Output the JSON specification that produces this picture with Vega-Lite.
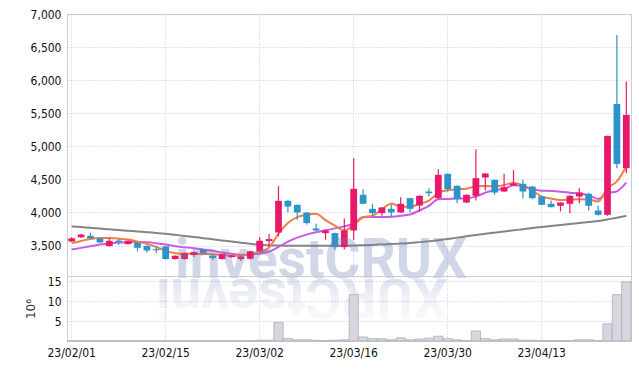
{
  "$schema": "https://vega.github.io/schema/vega-lite/v6.json",
  "padding": {"left": 23, "top": 7, "right": 8, "bottom": 5},
  "background": "white",
  "bounds": "flush",
  "datasets": {
    "k": [
      {"d":"23/02/01","o":3562,"h":3625,"l":3555,"c":3610,"m5":3537,"m20":3442,"m60":3790,"v":0.05},
      {"d":"23/02/02","o":3626,"h":3680,"l":3615,"c":3667,"m5":3570,"m20":3465,"m60":3779,"v":0.05},
      {"d":"23/02/03","o":3648,"h":3695,"l":3600,"c":3607,"m5":3600,"m20":3490,"m60":3768,"v":0.05},
      {"d":"23/02/06","o":3607,"h":3610,"l":3540,"c":3547,"m5":3613,"m20":3515,"m60":3757,"v":0.05},
      {"d":"23/02/07","o":3492,"h":3610,"l":3485,"c":3572,"m5":3613,"m20":3530,"m60":3746,"v":0.05},
      {"d":"23/02/08","o":3575,"h":3600,"l":3510,"c":3555,"m5":3605,"m20":3545,"m60":3735,"v":0.05},
      {"d":"23/02/09","o":3522,"h":3578,"l":3515,"c":3572,"m5":3590,"m20":3552,"m60":3724,"v":0.05},
      {"d":"23/02/10","o":3542,"h":3548,"l":3410,"c":3466,"m5":3560,"m20":3555,"m60":3713,"v":0.05},
      {"d":"23/02/13","o":3497,"h":3500,"l":3395,"c":3426,"m5":3525,"m20":3552,"m60":3702,"v":0.05},
      {"d":"23/02/14","o":3447,"h":3486,"l":3386,"c":3430,"m5":3480,"m20":3535,"m60":3691,"v":0.05},
      {"d":"23/02/15","o":3487,"h":3492,"l":3290,"c":3296,"m5":3420,"m20":3515,"m60":3678,"v":0.05},
      {"d":"23/02/16","o":3296,"h":3350,"l":3290,"c":3346,"m5":3385,"m20":3490,"m60":3662,"v":0.05},
      {"d":"23/02/17","o":3296,"h":3395,"l":3290,"c":3386,"m5":3376,"m20":3475,"m60":3646,"v":0.05},
      {"d":"23/02/20","o":3356,"h":3410,"l":3326,"c":3402,"m5":3376,"m20":3460,"m60":3630,"v":0.05},
      {"d":"23/02/21","o":3436,"h":3440,"l":3380,"c":3386,"m5":3372,"m20":3440,"m60":3612,"v":0.05},
      {"d":"23/02/22","o":3346,"h":3371,"l":3281,"c":3311,"m5":3370,"m20":3420,"m60":3595,"v":0.05},
      {"d":"23/02/23","o":3296,"h":3375,"l":3290,"c":3371,"m5":3360,"m20":3395,"m60":3578,"v":0.05},
      {"d":"23/02/24","o":3326,"h":3356,"l":3316,"c":3350,"m5":3346,"m20":3375,"m60":3560,"v":0.05},
      {"d":"23/02/27","o":3296,"h":3340,"l":3266,"c":3335,"m5":3350,"m20":3362,"m60":3543,"v":0.05},
      {"d":"23/02/28","o":3300,"h":3420,"l":3290,"c":3415,"m5":3372,"m20":3365,"m60":3526,"v":0.1},
      {"d":"23/03/02","o":3411,"h":3630,"l":3400,"c":3572,"m5":3400,"m20":3380,"m60":3512,"v":0.2},
      {"d":"23/03/03","o":3568,"h":3673,"l":3487,"c":3598,"m5":3470,"m20":3410,"m60":3505,"v":0.2},
      {"d":"23/03/06","o":3698,"h":4403,"l":3637,"c":4176,"m5":3680,"m20":3480,"m60":3500,"v":4.65},
      {"d":"23/03/07","o":4176,"h":4191,"l":4000,"c":4090,"m5":3840,"m20":3560,"m60":3498,"v":0.6},
      {"d":"23/03/08","o":4116,"h":4120,"l":3889,"c":4000,"m5":3930,"m20":3620,"m60":3497,"v":0.3},
      {"d":"23/03/09","o":4000,"h":4005,"l":3817,"c":3840,"m5":3965,"m20":3665,"m60":3497,"v":0.3},
      {"d":"23/03/10","o":3758,"h":3828,"l":3720,"c":3728,"m5":3980,"m20":3700,"m60":3497,"v":0.15},
      {"d":"23/03/13","o":3688,"h":3735,"l":3587,"c":3728,"m5":3885,"m20":3730,"m60":3497,"v":0.1},
      {"d":"23/03/14","o":3688,"h":3692,"l":3436,"c":3476,"m5":3800,"m20":3760,"m60":3497,"v":0.2},
      {"d":"23/03/15","o":3476,"h":3909,"l":3440,"c":3728,"m5":3728,"m20":3790,"m60":3498,"v":0.3},
      {"d":"23/03/16","o":3728,"h":4821,"l":3587,"c":4358,"m5":3810,"m20":3830,"m60":3500,"v":11.6},
      {"d":"23/03/17","o":4267,"h":4353,"l":4125,"c":4131,"m5":3925,"m20":3930,"m60":3505,"v":1.0},
      {"d":"23/03/20","o":4055,"h":4131,"l":3950,"c":3990,"m5":3950,"m20":3930,"m60":3510,"v":0.6},
      {"d":"23/03/21","o":3990,"h":4080,"l":3950,"c":4076,"m5":4050,"m20":3930,"m60":3516,"v":0.55},
      {"d":"23/03/22","o":4055,"h":4116,"l":3939,"c":4000,"m5":4131,"m20":3935,"m60":3523,"v":0.3},
      {"d":"23/03/23","o":4000,"h":4232,"l":3995,"c":4131,"m5":4090,"m20":3950,"m60":3530,"v":0.8},
      {"d":"23/03/24","o":4217,"h":4220,"l":4000,"c":4055,"m5":4085,"m20":3970,"m60":3540,"v":0.3},
      {"d":"23/03/27","o":4106,"h":4260,"l":4015,"c":4252,"m5":4131,"m20":4030,"m60":3552,"v":0.5},
      {"d":"23/03/28","o":4317,"h":4368,"l":4242,"c":4292,"m5":4180,"m20":4100,"m60":3565,"v":0.7},
      {"d":"23/03/29","o":4217,"h":4655,"l":4200,"c":4569,"m5":4295,"m20":4200,"m60":3580,"v":1.2},
      {"d":"23/03/30","o":4584,"h":4590,"l":4317,"c":4353,"m5":4335,"m20":4205,"m60":3598,"v":0.6},
      {"d":"23/03/31","o":4403,"h":4410,"l":4141,"c":4202,"m5":4350,"m20":4210,"m60":3620,"v":0.3},
      {"d":"23/04/03","o":4151,"h":4275,"l":4140,"c":4267,"m5":4360,"m20":4215,"m60":3640,"v":0.1},
      {"d":"23/04/04","o":4252,"h":4957,"l":4181,"c":4519,"m5":4395,"m20":4240,"m60":3660,"v":2.5},
      {"d":"23/04/05","o":4528,"h":4594,"l":4332,"c":4590,"m5":4400,"m20":4300,"m60":3678,"v":0.6},
      {"d":"23/04/06","o":4493,"h":4500,"l":4267,"c":4302,"m5":4395,"m20":4340,"m60":3695,"v":0.3},
      {"d":"23/04/07","o":4317,"h":4584,"l":4310,"c":4383,"m5":4415,"m20":4360,"m60":3712,"v":0.5},
      {"d":"23/04/10","o":4408,"h":4644,"l":4400,"c":4438,"m5":4445,"m20":4410,"m60":3730,"v":0.5},
      {"d":"23/04/11","o":4433,"h":4493,"l":4217,"c":4317,"m5":4410,"m20":4400,"m60":3748,"v":0.2},
      {"d":"23/04/12","o":4392,"h":4400,"l":4200,"c":4217,"m5":4330,"m20":4350,"m60":3765,"v":0.2},
      {"d":"23/04/13","o":4242,"h":4245,"l":4110,"c":4116,"m5":4240,"m20":4330,"m60":3780,"v":0.1},
      {"d":"23/04/14","o":4131,"h":4181,"l":4075,"c":4081,"m5":4210,"m20":4325,"m60":3795,"v":0.1},
      {"d":"23/04/17","o":4101,"h":4155,"l":4015,"c":4151,"m5":4190,"m20":4315,"m60":3810,"v":0.1},
      {"d":"23/04/18","o":4131,"h":4260,"l":3990,"c":4252,"m5":4195,"m20":4300,"m60":3825,"v":0.1},
      {"d":"23/04/19","o":4242,"h":4368,"l":4141,"c":4302,"m5":4200,"m20":4285,"m60":3840,"v":0.3},
      {"d":"23/04/20","o":4282,"h":4300,"l":4030,"c":4101,"m5":4195,"m20":4260,"m60":3855,"v":0.3},
      {"d":"23/04/21","o":4030,"h":4101,"l":3950,"c":3965,"m5":4165,"m20":4205,"m60":3870,"v":0.1},
      {"d":"23/04/24","o":3965,"h":5160,"l":3950,"c":5158,"m5":4370,"m20":4290,"m60":3895,"v":4.3},
      {"d":"23/04/25","o":5641,"h":6683,"l":4670,"c":4735,"m5":4470,"m20":4320,"m60":3920,"v":11.6},
      {"d":"23/04/26","o":4670,"h":5978,"l":4594,"c":5475,"m5":4695,"m20":4450,"m60":3950,"v":14.8}
    ]
  },
  "spacing": 0,
  "vconcat": [
    {
      "width": 564,
      "height": 262,
      "data": {"name": "k"},
      "encoding": {
        "x": {
          "field": "d", "type": "ordinal", "title": null,
          "scale": {"type": "band", "paddingInner": 0.28, "paddingOuter": 0.14},
          "axis": {"labels": false, "domain": false, "ticks": false, "grid": true, "bandPosition": 0.5,
                   "values": ["23/02/01","23/02/15","23/03/02","23/03/16","23/03/30","23/04/13"]}
        }
      },
      "layer": [
        {
          "mark": {"type": "line", "color": "#858585", "strokeWidth": 2, "interpolate": "monotone"},
          "encoding": {
            "y": {"field": "m60", "type": "quantitative", "title": null,
                  "scale": {"domain": [3040, 7000], "nice": false, "zero": false},
                  "axis": {"values": [3500,4000,4500,5000,5500,6000,6500,7000], "labelExpr": "format(datum.value, ',.0f')", "grid": true, "title": null}}
          }
        },
        {
          "mark": {"type": "line", "color": "#c95ae8", "strokeWidth": 2, "interpolate": "monotone"},
          "encoding": {"y": {"field": "m20", "type": "quantitative", "title": null,
                  "axis": {"values": [3500,4000,4500,5000,5500,6000,6500,7000], "labelExpr": "format(datum.value, ',.0f')", "grid": true, "title": null}}}
        },
        {
          "mark": {"type": "line", "color": "#ef7d45", "strokeWidth": 2, "interpolate": "monotone"},
          "encoding": {"y": {"field": "m5", "type": "quantitative", "title": null,
                  "axis": {"values": [3500,4000,4500,5000,5500,6000,6500,7000], "labelExpr": "format(datum.value, ',.0f')", "grid": true, "title": null}}}
        },
        {
          "mark": {"type": "rule", "strokeWidth": 1.2},
          "encoding": {
            "y": {"field": "l", "type": "quantitative", "title": null,
                  "axis": {"values": [3500,4000,4500,5000,5500,6000,6500,7000], "labelExpr": "format(datum.value, ',.0f')", "grid": true, "title": null}},
            "y2": {"field": "h"},
            "color": {"condition": {"test": "datum.c >= datum.o", "value": "#e8196b"}, "value": "#2e93c8"}
          }
        },
        {
          "mark": {"type": "bar"},
          "encoding": {
            "y": {"field": "o", "type": "quantitative", "title": null,
                  "axis": {"values": [3500,4000,4500,5000,5500,6000,6500,7000], "labelExpr": "format(datum.value, ',.0f')", "grid": true, "title": null}},
            "y2": {"field": "c"},
            "color": {"condition": {"test": "datum.c >= datum.o", "value": "#e8196b"}, "value": "#2e93c8"}
          }
        },
        {
          "data": {"values": [{}]},
          "mark": {"type": "text", "font": "Roboto", "fontWeight": "bold", "fontSize": 55,
                   "align": "left", "baseline": "alphabetic", "color": "#6c7db2", "opacity": 0.3},
          "encoding": {
            "x": {"datum": "23/02/16", "type": "ordinal"},
            "y": {"datum": 3013, "type": "quantitative", "title": null,
                  "axis": {"values": [3500,4000,4500,5000,5500,6000,6500,7000], "labelExpr": "format(datum.value, ',.0f')", "grid": true, "title": null}},
            "text": {"value": "investCRUX"}
          }
        }
      ]
    },
    {
      "width": 564,
      "height": 65,
      "data": {"name": "k"},
      "encoding": {
        "x": {
          "field": "d", "type": "ordinal", "title": null,
          "scale": {"type": "band", "paddingInner": 0.02, "paddingOuter": 0.01},
          "axis": {"labelAngle": 0, "ticks": false, "grid": true, "bandPosition": 0.5, "labelPadding": 6,
                   "values": ["23/02/01","23/02/15","23/03/02","23/03/16","23/03/30","23/04/13"]}
        }
      },
      "layer": [
        {
          "data": {"values": [{}]},
          "mark": {"type": "text", "font": "Roboto", "fontWeight": "bold", "fontSize": 55,
                   "align": "left", "baseline": "alphabetic", "angle": 180,
                   "color": {"gradient": "linear", "x1": 0, "y1": 0, "x2": 0, "y2": 1,
                             "stops": [{"offset": 0, "color": "rgba(108,125,178,0)"},
                                       {"offset": 0.55, "color": "rgba(108,125,178,0.12)"},
                                       {"offset": 1, "color": "rgba(108,125,178,0.3)"}]}},
          "encoding": {
            "x": {"datum": "23/03/30", "type": "ordinal"},
            "y": {"datum": 15.5, "type": "quantitative", "title": "10⁶",
                  "axis": {"values": [5, 10, 15], "grid": true, "titlePadding": 10, "title": "10⁶"}},
            "text": {"value": "XURCtsevni"}
          }
        },
        {
          "mark": {"type": "bar", "fill": "#d6d6de", "stroke": "#aeaeb8", "strokeWidth": 0.8},
          "encoding": {
            "y": {"field": "v", "type": "quantitative", "title": "10⁶",
                  "scale": {"domain": [0, 16.25], "nice": false},
                  "axis": {"values": [5, 10, 15], "grid": true, "titlePadding": 10, "title": "10⁶"}}
          }
        }
      ]
    }
  ],
  "config": {
    "view": {"stroke": "#c9ccd6"},
    "axis": {
      "labelFont": "DejaVu Sans Condensed",
      "labelFontSize": 12,
      "labelColor": "#111111",
      "titleFont": "DejaVu Sans",
      "titleFontSize": 12,
      "titleFontWeight": "normal",
      "titleColor": "#333333",
      "gridColor": "#c3c9dc",
      "gridDash": [1, 2],
      "gridOpacity": 1,
      "domainColor": "#c9ccd6",
      "ticks": false,
      "labelPadding": 6
    }
  }
}
